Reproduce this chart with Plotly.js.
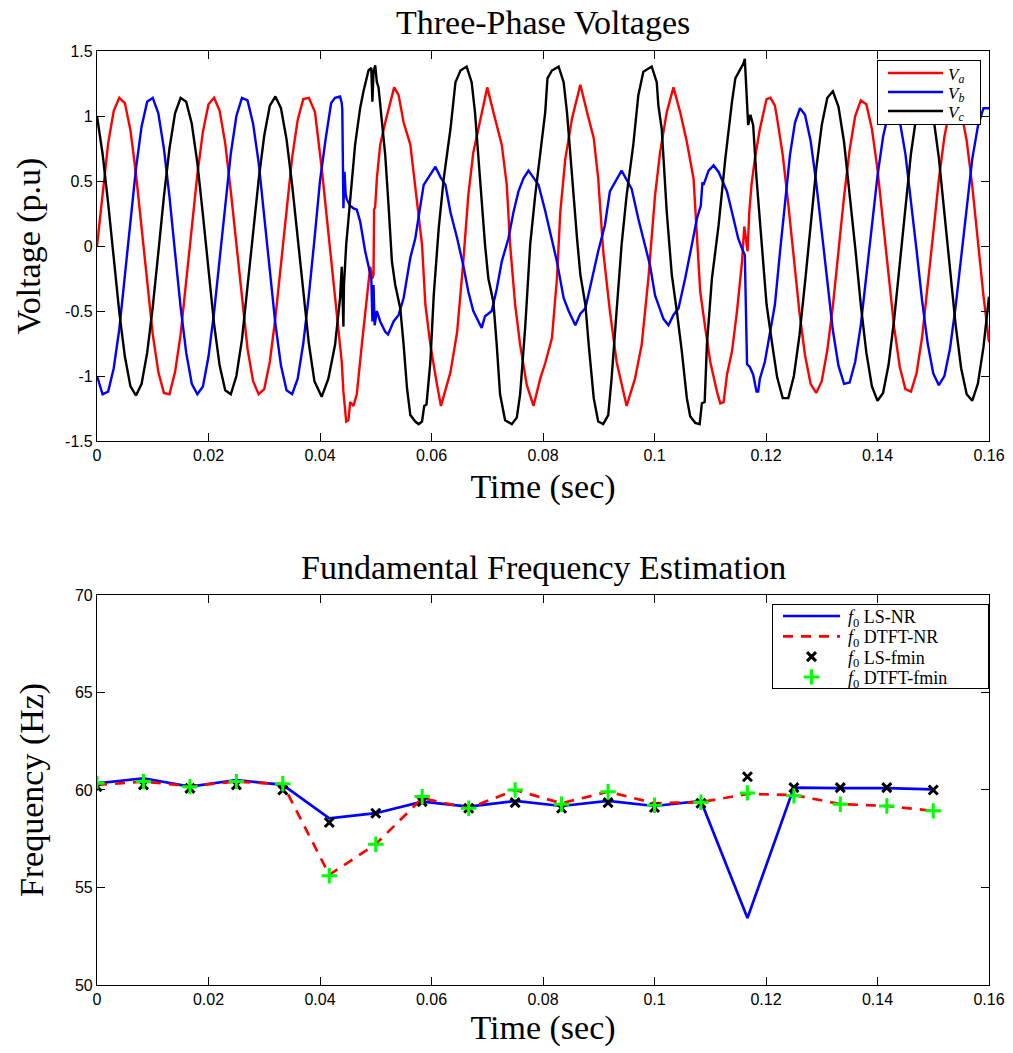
<!DOCTYPE html>
<html><head><meta charset="utf-8">
<script src="https://cdn.plot.ly/plotly-3.0.1.min.js"></script>
<style>body{margin:0;background:#fff}#chart{width:1013px;height:1053px}</style>
</head><body><div id="chart"></div>
<script>
// ---------- Three-phase voltages (time in s, voltage in p.u.) ----------
const tA = [0,0.001,0.002,0.003,0.004,0.005,0.006,0.007,0.008,0.009,0.010,0.011,0.012,0.013,0.014,0.015,0.016,0.017,0.018,0.019,0.020,0.021,0.022,0.023,0.024,0.025,0.026,0.027,0.028,0.029,0.030,0.031,0.032,0.033,0.034,0.035,0.036,0.037,0.038,
 0.0391,0.0403,0.0415,0.0427,0.0439,0.0442,0.0447,0.0451,0.0454,0.0460,0.0466,0.0475,0.0484,0.0490,0.0494,0.0496,0.0497,0.0499,0.0502,0.0508,0.0517,0.0525,0.0533,0.0541,0.0550,0.0562,0.0574,0.0583,0.0589,0.0598,0.0610,0.0617,
 0.0634,0.0646,0.0657,0.0666,0.0675,0.0687,0.0700,0.0711,0.0726,0.0735,0.0741,0.0750,0.0759,0.0771,0.0783,0.0795,0.0804,0.0816,0.0825,0.0831,0.0840,0.0852,0.0867,0.0879,0.0891,0.0899,0.0908,0.0920,0.0932,0.0950,
 0.0965,0.0977,0.0989,0.1001,0.1010,0.1022,0.1034,0.1046,0.1058,0.1070,0.1076,0.1082,0.1091,0.1100,0.1112,0.1118,0.1124,0.1130,0.1139,0.1148,0.1157,0.1161,0.1167,0.1170,0.1174,0.1180,0.1189,0.1201,0.1208,0.1216,
 0.122,0.123,0.124,0.125,0.126,0.127,0.128,0.129,0.130,0.131,0.132,0.133,0.134,0.135,0.136,0.137,0.138,0.139,0.140,0.141,0.142,0.143,0.144,0.145,0.146,0.147,0.148,0.149,0.150,0.151,0.152,0.153,0.154,0.155,0.156,0.157,0.158,0.159,0.160];
const vA = [0.00,0.42,0.79,1.04,1.14,1.10,0.89,0.55,0.14,-0.29,-0.68,-0.97,-1.13,-1.14,-0.97,-0.68,-0.29,0.14,0.55,0.88,1.09,1.14,1.04,0.79,0.42,0.00,-0.42,-0.79,-1.04,-1.14,-1.10,-0.89,-0.55,-0.14,0.29,0.68,0.97,1.13,1.14,
 1.03,0.60,0.11,-0.40,-0.89,-1.12,-1.35,-1.34,-1.20,-1.23,-1.14,-0.76,-0.38,-0.16,-0.25,-0.22,0.28,0.30,0.52,0.78,0.95,1.08,1.22,1.16,0.95,0.78,0.35,0.01,-0.45,-0.76,-1.07,-1.23,
 -0.97,-0.66,-0.12,0.39,0.72,0.95,1.22,1.03,0.78,0.47,0.01,-0.45,-0.76,-1.07,-1.23,-1.02,-0.90,-0.71,-0.25,0.26,0.67,0.98,1.24,1.03,0.83,0.52,-0.04,-0.50,-0.89,-1.23,
 -1.02,-0.76,-0.25,0.39,0.72,1.03,1.22,1.03,0.80,0.52,0.11,-0.35,-0.63,-0.89,-1.12,-1.21,-1.20,-0.99,-0.81,-0.50,-0.12,0.15,-0.04,0.26,0.47,0.67,0.90,1.13,1.14,1.08,
 0.98,0.70,0.32,-0.10,-0.51,-0.84,-1.06,-1.13,-1.04,-0.80,-0.46,-0.04,0.38,0.74,1.00,1.12,1.09,0.90,0.59,0.18,-0.24,-0.63,-0.93,-1.10,-1.12,-0.98,-0.70,-0.32,0.10,0.51,0.84,1.06,1.13,1.04,0.81,0.46,0.04,-0.38,-0.74];

const tB = [0,0.001,0.002,0.003,0.004,0.005,0.006,0.007,0.008,0.009,0.010,0.011,0.012,0.013,0.014,0.015,0.016,0.017,0.018,0.019,0.020,0.021,0.022,0.023,0.024,0.025,0.026,0.027,0.028,0.029,0.030,0.031,0.032,0.033,0.034,0.035,0.036,0.037,0.038,0.039,0.040,0.041,0.042,
 0.0427,0.0436,0.0439,0.0440,0.0442,0.0444,0.0446,0.0448,0.0454,0.0460,0.0466,0.0472,0.0481,0.0487,0.0492,0.0494,0.0496,0.0498,0.0502,0.0508,0.0517,0.0522,0.0532,0.0541,0.0550,0.0562,0.0571,0.0580,0.0586,0.0595,
 0.0607,0.0616,0.0625,0.0634,0.0646,0.0657,0.0666,0.0675,0.0684,0.0690,0.0696,0.0708,0.0717,0.0726,0.0738,0.0747,0.0756,0.0765,0.0774,0.0783,0.0792,0.0804,0.0813,0.0825,0.0837,0.0846,0.0858,0.0867,0.0876,0.0888,
 0.0899,0.0911,0.0920,0.0929,0.0941,0.0950,0.0959,0.0971,0.0983,0.0992,0.1001,0.1010,0.1016,0.1025,0.1034,0.1043,0.1055,0.1067,0.1076,0.1083,0.1086,0.1088,0.1097,0.1106,0.1115,0.1121,0.1130,0.1139,0.1150,0.1157,
 0.1162,0.1166,0.1171,0.1177,0.1183,0.1186,0.1189,0.1198,0.1207,0.1216,0.1225,0.1234,0.1243,0.1252,0.1261,
 0.127,0.128,0.129,0.130,0.131,0.132,0.133,0.134,0.135,0.136,0.137,0.138,0.139,0.140,0.141,0.142,0.143,0.144,0.145,0.146,0.147,0.148,0.149,0.150,0.151,0.152,0.153,0.154,0.155,0.156,0.157,0.158,0.159,0.160];
const vB = [-1.00,-1.14,-1.12,-0.94,-0.64,-0.24,0.19,0.60,0.92,1.11,1.14,1.02,0.75,0.38,-0.05,-0.47,-0.82,-1.06,-1.14,-1.08,-0.85,-0.51,-0.10,0.33,0.71,1.00,1.14,1.12,0.94,0.64,0.24,-0.19,-0.60,-0.92,-1.11,-1.14,-1.02,-0.75,-0.38,0.05,0.50,0.82,1.10,
 1.14,1.15,1.10,1.05,0.29,0.57,0.40,0.36,0.31,0.29,0.28,0.19,-0.04,-0.15,-0.25,-0.58,-0.30,-0.61,-0.50,-0.58,-0.66,-0.68,-0.58,-0.53,-0.40,-0.09,0.06,0.31,0.47,0.53,
 0.61,0.53,0.47,0.26,0.06,-0.15,-0.35,-0.50,-0.58,-0.63,-0.54,-0.50,-0.33,-0.12,0.06,0.26,0.42,0.52,0.58,0.52,0.47,0.27,0.11,-0.12,-0.40,-0.50,-0.61,-0.52,-0.48,-0.25,
 -0.04,0.16,0.42,0.49,0.58,0.51,0.44,0.21,0.01,-0.15,-0.38,-0.48,-0.56,-0.61,-0.53,-0.48,-0.25,0.01,0.21,0.31,0.49,0.47,0.58,0.62,0.57,0.51,0.42,0.26,0.06,-0.02,
 -0.07,-0.91,-0.93,-0.99,-1.12,-1.12,-1.02,-0.89,-0.68,-0.45,-0.05,0.35,0.70,0.95,1.06,
 1.01,0.81,0.49,0.11,-0.29,-0.65,-0.92,-1.06,-1.05,-0.89,-0.61,-0.24,0.16,0.54,0.84,1.03,1.07,0.96,0.71,0.36,-0.03,-0.42,-0.75,-0.98,-1.07,-1.00,-0.79,-0.47,-0.08,0.32,0.67,0.92,1.06,1.06];

const tC = [0,0.001,0.002,0.003,0.004,0.005,0.006,0.007,0.008,0.009,0.010,0.011,0.012,0.013,0.014,0.015,0.016,0.017,0.018,0.019,0.020,0.021,0.022,0.023,0.024,0.025,0.026,0.027,0.028,0.029,0.030,0.031,0.032,0.033,0.034,0.035,0.036,0.037,0.038,0.039,
 0.0403,0.0415,0.0427,0.0436,0.0439,0.0442,0.0443,0.0447,0.0451,0.0457,0.0463,0.0472,0.0478,0.0487,0.0492,0.0494,0.0496,0.0499,0.0502,0.0505,0.0511,0.0517,0.0523,0.0529,0.0535,0.0544,0.0550,0.0556,0.0562,0.0571,
 0.0577,0.0583,0.0587,0.0591,0.0598,0.0604,0.0613,0.0622,0.0634,0.0643,0.0652,0.0663,0.0672,0.0678,0.0687,0.0696,0.0702,0.0711,0.0717,0.0723,0.0732,0.0744,0.0753,0.0759,0.0768,0.0777,0.0786,0.0795,0.0804,0.0808,
 0.0816,0.0828,0.0837,0.0843,0.0852,0.0861,0.0867,0.0876,0.0882,0.0891,0.0899,0.0908,0.0917,0.0923,0.0932,0.0941,0.0950,0.0962,0.0971,0.0980,0.0995,0.1004,0.1007,0.1013,0.1022,0.1031,0.1040,0.1049,0.1058,0.1064,
 0.1073,0.1081,0.1085,0.1090,0.1094,0.1103,0.1115,0.1127,0.1139,0.1145,0.1154,0.1159,0.1162,0.1165,0.1168,0.1172,0.1177,0.1183,0.1192,0.1201,0.1213,
 0.122,0.123,0.124,0.125,0.126,0.127,0.128,0.129,0.130,0.131,0.132,0.133,0.134,0.135,0.136,0.137,0.138,0.139,0.140,0.141,0.142,0.143,0.144,0.145,0.146,0.147,0.148,0.149,0.150,0.151,0.152,0.153,0.154,0.155,0.156,0.157,0.158,0.159,0.160];
const vC = [1.00,0.71,0.33,-0.10,-0.51,-0.85,-1.08,-1.15,-1.06,-0.82,-0.47,-0.05,0.38,0.75,1.02,1.14,1.11,0.94,0.64,0.24,-0.19,-0.60,-0.92,-1.11,-1.14,-1.00,-0.72,-0.33,0.10,0.51,0.85,1.08,1.15,1.06,0.82,0.47,0.05,-0.38,-0.75,-1.04,
 -1.16,-1.02,-0.76,-0.40,-0.16,-0.62,-0.30,0.01,0.21,0.52,0.78,1.06,1.19,1.35,1.37,1.11,1.34,1.39,1.26,1.22,0.93,0.70,0.31,-0.12,-0.30,-0.48,-0.76,-1.09,-1.30,-1.35,
 -1.37,-1.35,-1.23,-1.22,-0.89,-0.38,0.14,0.52,0.90,1.26,1.35,1.38,1.26,1.03,0.52,0.01,-0.25,-0.43,-0.76,-1.14,-1.34,-1.37,-1.32,-1.14,-0.63,0.01,0.39,0.72,1.03,1.29,
 1.35,1.38,1.26,1.03,0.52,0.06,-0.22,-0.45,-0.76,-1.17,-1.35,-1.37,-1.30,-1.02,-0.50,0.01,0.39,0.78,1.16,1.34,1.38,1.26,1.08,0.90,0.26,-0.22,-0.50,-0.81,-1.17,-1.31,
 -1.36,-1.37,-1.21,-1.20,-0.76,-0.25,0.16,0.67,1.11,1.29,1.36,1.40,1.44,1.19,0.93,1.01,0.93,0.52,0.01,-0.45,-0.81,
 -1.01,-1.17,-1.17,-1.00,-0.69,-0.28,0.16,0.59,0.93,1.14,1.19,1.07,0.80,0.42,-0.01,-0.45,-0.82,-1.08,-1.19,-1.13,-0.91,-0.56,-0.13,0.31,0.71,1.01,1.17,1.17,1.00,0.68,0.26,-0.18,-0.60,-0.94,-1.14,-1.19,-1.06,-0.78,-0.39];

// ---------- Fundamental frequency estimates (Hz) ----------
const tF = [0,0.00833,0.01667,0.025,0.03333,0.04167,0.05,0.05833,0.06667,0.075,0.08333,0.09167,0.1,0.10833,0.11667,0.125,0.13333,0.14167,0.15];
const fLSNR    = [60.34,60.60,60.17,60.51,60.26,58.55,58.81,59.40,59.15,59.44,59.18,59.44,59.18,59.44,53.43,60.12,60.09,60.09,60.03];
const fDTFTNR  = [60.26,60.43,60.20,60.43,60.30,55.65,57.22,59.58,59.06,60.00,59.32,59.91,59.32,59.37,59.80,59.74,59.28,59.18,58.93];
const fLSfmin  = [60.17,60.26,60.08,60.26,60.00,58.33,58.81,59.40,59.06,59.35,59.06,59.35,59.10,59.32,60.68,60.12,60.12,60.12,60.00];
const fDTFTfmin= [60.34,60.43,60.17,60.43,60.32,55.60,57.22,59.66,59.06,60.00,59.27,59.91,59.22,59.37,59.85,59.70,59.27,59.18,58.93];

// ---------- tick labels ----------
const xTicks = [0,0.02,0.04,0.06,0.08,0.1,0.12,0.14,0.16];
const xTickText = ['0','0.02','0.04','0.06','0.08','0.1','0.12','0.14','0.16'];
const vTicks = [-1.5,-1,-0.5,0,0.5,1,1.5];
const vTickText = ['-1.5','-1','-0.5','0','0.5','1','1.5'];
const fTicks = [50,55,60,65,70];
const fTickText = ['50','55','60','65','70'];

const serif = '"Liberation Serif", "Times New Roman", serif';
const sans = '"Liberation Sans", Arial, sans-serif';

const traces = [
  {x:tA, y:vA, xaxis:'x', yaxis:'y', mode:'lines', name:'<i>V<sub>a</sub></i>', line:{color:'#ff0000', width:2.4}, legend:'legend'},
  {x:tB, y:vB, xaxis:'x', yaxis:'y', mode:'lines', name:'<i>V<sub>b</sub></i>', line:{color:'#0000ff', width:2.4}, legend:'legend'},
  {x:tC, y:vC, xaxis:'x', yaxis:'y', mode:'lines', name:'<i>V<sub>c</sub></i>', line:{color:'#000000', width:2.4}, legend:'legend'},
  {x:tF, y:fLSNR, xaxis:'x2', yaxis:'y2', mode:'lines', name:'<i>f</i><sub>0</sub> LS-NR', line:{color:'#0000ff', width:2.7}, legend:'legend2'},
  {x:tF, y:fDTFTNR, xaxis:'x2', yaxis:'y2', mode:'lines', name:'<i>f</i><sub>0</sub> DTFT-NR', line:{color:'#ff0000', width:2.7, dash:'10px,8px'}, legend:'legend2'},
  {x:tF, y:fLSfmin, xaxis:'x2', yaxis:'y2', mode:'markers', name:'<i>f</i><sub>0</sub> LS-fmin', marker:{symbol:'x-thin', size:9, color:'#000', line:{color:'#000', width:3}}, legend:'legend2'},
  {x:tF, y:fDTFTfmin, xaxis:'x2', yaxis:'y2', mode:'markers', name:'<i>f</i><sub>0</sub> DTFT-fmin', marker:{symbol:'cross-thin', size:11, color:'#00ff00', line:{color:'#00ff00', width:3}}, legend:'legend2'}
];

const axBase = {showline:true, mirror:'ticks', linecolor:'#000', linewidth:1.2, ticks:'inside', ticklen:8, tickwidth:1, tickcolor:'#000',
  showgrid:false, zeroline:false, tickfont:{family:sans, size:16, color:'#000'}};
const titleFont = {family:serif, size:34, color:'#000'};

const layout = {
  width:1013, height:1053, paper_bgcolor:'#fff', plot_bgcolor:'#fff',
  margin:{l:97, r:24, t:51, b:68},
  showlegend:true,
  xaxis: Object.assign({}, axBase, {domain:[0,1], anchor:'y', range:[0,0.16], tickvals:xTicks, ticktext:xTickText,
      title:{text:'Time (sec)', font:titleFont, standoff:10}}),
  yaxis: Object.assign({}, axBase, {domain:[0.5824,1], anchor:'x', range:[-1.5,1.5], tickvals:vTicks, ticktext:vTickText,
      title:{text:'Voltage (p.u)', font:titleFont, standoff:14}}),
  xaxis2: Object.assign({}, axBase, {domain:[0,1], anchor:'y2', range:[0,0.16], tickvals:xTicks, ticktext:xTickText,
      title:{text:'Time (sec)', font:titleFont, standoff:7}}),
  yaxis2: Object.assign({}, axBase, {domain:[0,0.4176], anchor:'x2', range:[50,70], tickvals:fTicks, ticktext:fTickText,
      title:{text:'Frequency (Hz)', font:titleFont, standoff:20}}),
  legend:{x:0.989, y:0.990, xanchor:'right', yanchor:'top', bgcolor:'#fff', bordercolor:'#000', borderwidth:1,
      font:{family:serif, size:17, color:'#000'}, tracegroupgap:0, itemwidth:61},
  legend2:{x:0.998, y:0.409, xanchor:'right', yanchor:'top', bgcolor:'#fff', bordercolor:'#000', borderwidth:1,
      font:{family:serif, size:18, color:'#000'}, tracegroupgap:0, itemwidth:66},
  annotations:[
    {text:'Three-Phase Voltages', xref:'paper', yref:'paper', x:0.5, y:1.031, xanchor:'center', yanchor:'middle', showarrow:false,
     font:{family:serif, size:34, color:'#000'}},
    {text:'Fundamental Frequency Estimation', xref:'paper', yref:'paper', x:0.5, y:0.447, xanchor:'center', yanchor:'middle', showarrow:false,
     font:{family:serif, size:34, color:'#000'}}
  ]
};

// Compact MATLAB-style legend boxes (tighter rows, longer line samples); pixel boxes match the figure frame
const legendBoxes = {
  legend:  {left:877, top:60,  width:103, height:64, rowTop:13, rowH:19,   lineX:11, lineLen:55},
  legend2: {left:772, top:604, width:216, height:84, rowTop:12, rowH:20.3, lineX:11, lineLen:57}
};
function compactLegends() {
  Object.keys(legendBoxes).forEach(cls => {
    try {
      const b = legendBoxes[cls];
      const lg = document.querySelector('#chart g.' + cls);
      if (!lg) return;
      lg.setAttribute('transform', `translate(${b.left},${b.top})`);
      const bg = lg.querySelector('rect.bg');
      if (bg) { bg.setAttribute('x', 0.5); bg.setAttribute('y', 0.5); bg.setAttribute('width', b.width); bg.setAttribute('height', b.height); }
      const sb = lg.querySelector('g.scrollbox');
      if (sb) { sb.removeAttribute('clip-path'); sb.setAttribute('transform', 'translate(0,0)'); }
      lg.querySelectorAll('g.traces').forEach((tr, i) => {
        tr.setAttribute('transform', `translate(0,${b.rowTop + i * b.rowH})`);
        tr.querySelectorAll('g.legendlines path').forEach(p => p.setAttribute('d', `M${b.lineX},0h${b.lineLen}`));
        tr.querySelectorAll('path.scatterpts').forEach(p => p.setAttribute('transform', `translate(${b.lineX + b.lineLen / 2},0)`));
        const tg = tr.querySelector('rect.legendtoggle');
        if (tg) { tg.setAttribute('width', b.width); tg.setAttribute('x', 0); }
      });
      const sbar = lg.querySelector('rect.scrollbar');
      if (sbar) sbar.setAttribute('width', 0);
    } catch (e) { console.log(e); }
  });
}

Plotly.newPlot('chart', traces, layout, {displayModeBar:false, responsive:false}).then(gd => {
  compactLegends();
  gd.on('plotly_afterplot', compactLegends);
  setTimeout(compactLegends, 50);
  setTimeout(compactLegends, 300);
});
</script>
</body></html>
